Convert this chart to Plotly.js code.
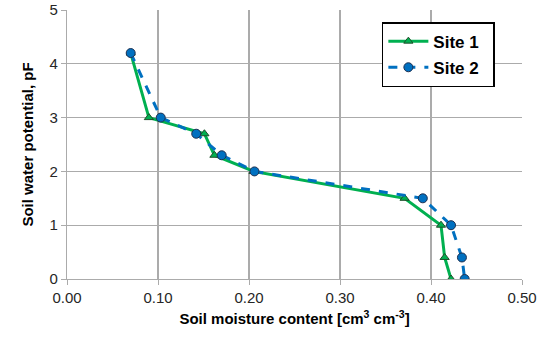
<!DOCTYPE html>
<html><head><meta charset="utf-8">
<script src="https://cdn.plot.ly/plotly-3.0.1.min.js"></script>
<style>html,body{margin:0;padding:0;background:#fff}#c{width:550px;height:343px}</style>
</head><body><div id="c"></div>
<script>
const site1X = [0.070, 0.090, 0.151, 0.162, 0.205, 0.371, 0.411, 0.415, 0.422];
const site1Y = [4.2, 3.0, 2.7, 2.3, 2.0, 1.5, 1.0, 0.4, 0.0];
const site2X = [0.070, 0.103, 0.142, 0.170, 0.206, 0.391, 0.422, 0.434, 0.437];
const site2Y = [4.2, 3.0, 2.7, 2.3, 2.0, 1.5, 1.0, 0.4, 0.0];
const seriesNames = ['Site 1', 'Site 2'];
const xTicks = [0, 0.1, 0.2, 0.3, 0.4, 0.5];
const xTickText = ['0.00', '0.10', '0.20', '0.30', '0.40', '0.50'];
const yTicks = [0, 1, 2, 3, 4, 5];

const traces = [
  {x: site1X, y: site1Y, name: seriesNames[0] + '\u00a0\u00a0', legendgroup: 'g1', mode: 'lines+markers', type: 'scatter',
   line: {color: '#00B050', width: 3},
   marker: {symbol: 'triangle-up', size: 8, color: '#00B050', line: {color: '#1f4e2a', width: 1}}},
  {x: site2X, y: site2Y, name: seriesNames[1] + '\u00a0\u00a0', legendgroup: 'g2', mode: 'lines+markers', type: 'scatter',
   line: {color: '#0070C0', width: 3, dash: 'dash'},
   marker: {symbol: 'circle', size: 9, color: '#0070C0', line: {color: '#1f3050', width: 1}}}
];
const layout = {
  width: 550, height: 343,
  margin: {l: 67, r: 28, t: 10, b: 64},
  paper_bgcolor: '#fff', plot_bgcolor: '#fff',
  font: {family: 'Liberation Sans, Arial, sans-serif', size: 14, color: '#222'},
  showlegend: true,
  legend: {x: 0.692, y: 0.955, xanchor: 'left', yanchor: 'top', bgcolor: '#fff',
    bordercolor: '#000', borderwidth: 1.5, font: {size: 17, color: '#000', weight: 'bold'},
    tracegroupgap: 1, itemwidth: 40},
  xaxis: {range: [0, 0.5], tickvals: xTicks, ticktext: xTickText, showgrid: true,
    gridcolor: '#ababab', gridwidth: 1.2, zeroline: false, showline: true, linecolor: '#ababab',
    linewidth: 1.2, ticks: 'outside', ticklen: 5, tickcolor: '#ababab', tickfont: {size: 15, color: '#262626'},
    title: {text: 'Soil moisture content [cm<sup>3</sup> cm<sup>-3</sup>]', font: {size: 15, color: '#000', weight: 'bold'}, standoff: 8}},
  yaxis: {range: [0, 5], tickvals: yTicks, showgrid: true, gridcolor: '#ababab', gridwidth: 1.2,
    zeroline: false, showline: true, linecolor: '#ababab', linewidth: 1.2, ticks: 'outside', ticklen: 5,
    tickcolor: '#ababab', tickfont: {size: 15, color: '#262626'},
    title: {text: 'Soil water potential, pF', font: {size: 15, color: '#000', weight: 'bold'}, standoff: 12}}
};
Plotly.newPlot('c', traces, layout, {displayModeBar: false, staticPlot: true});
</script></body></html>
